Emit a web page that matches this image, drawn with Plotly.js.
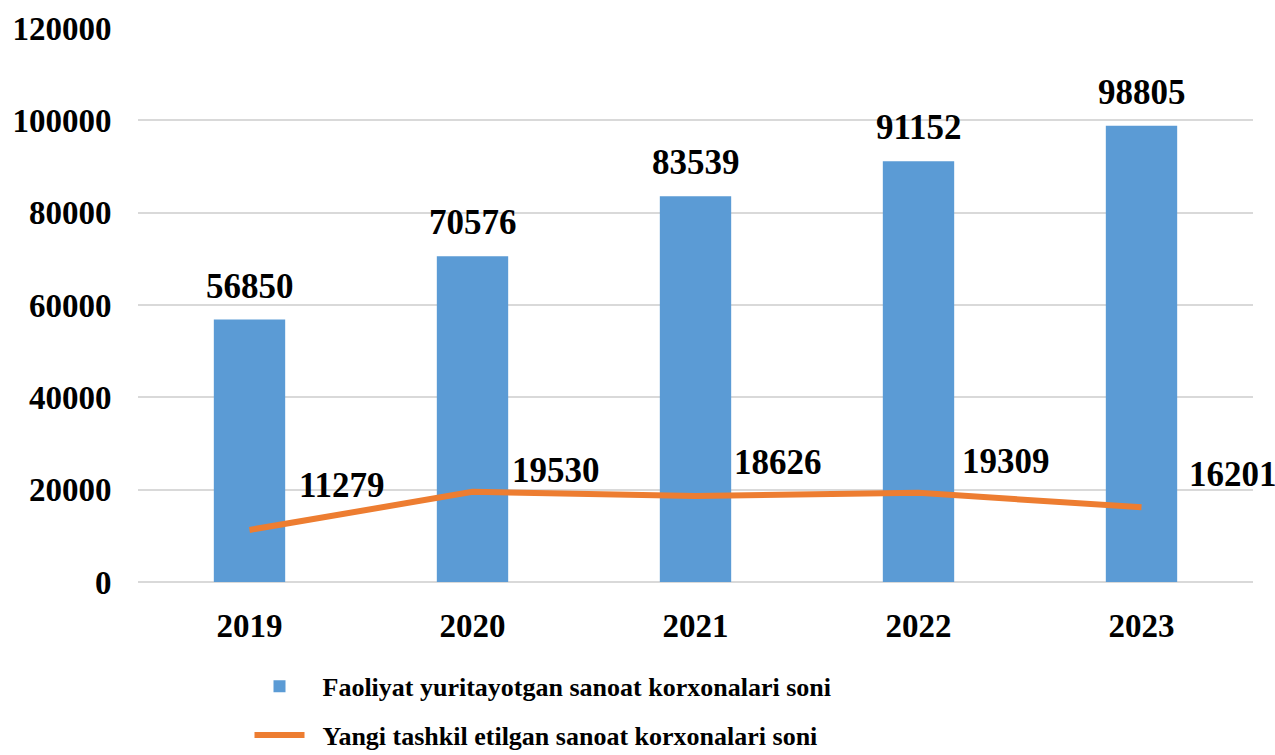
<!DOCTYPE html>
<html>
<head>
<meta charset="utf-8">
<script src="https://cdn.plot.ly/plotly-3.0.1.min.js"></script>
<style>html,body{margin:0;padding:0;background:#fff;}#chart{width:1275px;height:755px;}</style>
</head>
<body>
<div id="chart"></div>
<script>
const years = ['2019', '2020', '2021', '2022', '2023'];
const activeEnterprises = [56850, 70576, 83539, 91152, 98805];
const newEnterprises = [11279, 19530, 18626, 19309, 16201];
const barName = 'Faoliyat yuritayotgan sanoat korxonalari soni';
const lineName = 'Yangi tashkil etilgan sanoat korxonalari soni';
const yTicks = [0, 20000, 40000, 60000, 80000, 100000, 120000];

// label placement (pixel offsets of the line's value labels, as in the source)
const lineLabelDx = [47, 37, 36, 41, 45];
const lineLabelDy = [44, 21, 34, 31, 33];

const FONT = '"Liberation Serif", "Times New Roman", serif';
const GAP = '\u00a0\u00a0';

const bars = {
  type: 'bar', x: years, y: activeEnterprises, name: GAP + barName,
  marker: {color: '#5B9BD5'},
  legendgroup: 'a'
};
const line = {
  type: 'scatter', mode: 'lines', x: years, y: newEnterprises, name: GAP + lineName,
  line: {color: '#ED7D31', width: 6},
  legendgroup: 'b'
};

const annotations = [];
years.forEach((yr, i) => {
  // category axes take the category index for annotation positions
  annotations.push({
    x: i, y: activeEnterprises[i], xref: 'x', yref: 'y',
    text: String(activeEnterprises[i]), showarrow: false,
    yanchor: 'bottom', yshift: 12,
    font: {family: FONT, size: 35, color: '#000', weight: 'bold'}
  });
  annotations.push({
    x: i, y: newEnterprises[i], xref: 'x', yref: 'y',
    text: String(newEnterprises[i]), showarrow: false,
    xanchor: 'left', yanchor: 'middle', xshift: lineLabelDx[i], yshift: lineLabelDy[i],
    font: {family: FONT, size: 35, color: '#000', weight: 'bold'}
  });
});

const layout = {
  width: 1275, height: 755,
  margin: {l: 138, r: 22, t: 28, b: 173, autoexpand: false},
  paper_bgcolor: '#fff', plot_bgcolor: '#fff',
  font: {family: FONT, color: '#000'},
  bargap: 0.68,
  showlegend: true,
  legend: {
    orientation: 'v', x: 0.1, xanchor: 'left', y: -0.146, yanchor: 'top',
    traceorder: 'grouped', tracegroupgap: 12, itemwidth: 50,
    font: {family: FONT, size: 26, color: '#000', weight: 'bold'}
  },
  xaxis: {
    type: 'category', range: [-0.5, 4.5],
    showgrid: false, zeroline: false, showline: false,
    ticks: 'outside', ticklen: 14, tickcolor: 'rgba(0,0,0,0)',
    tickfont: {family: FONT, size: 33, color: '#000', weight: 'bold'}
  },
  yaxis: {
    range: [0, 120000], tickvals: yTicks, ticktext: yTicks.map(String),
    showgrid: true, gridcolor: '#D9D9D9', gridwidth: 2,
    zeroline: true, zerolinecolor: '#D9D9D9', zerolinewidth: 2,
    showline: false,
    ticks: 'outside', ticklen: 19, tickcolor: 'rgba(0,0,0,0)',
    tickfont: {family: FONT, size: 33, color: '#000', weight: 'bold'}
  },
  annotations: annotations
};

Plotly.newPlot('chart', [bars, line], layout, {displayModeBar: false, staticPlot: true});
</script>
</body>
</html>
